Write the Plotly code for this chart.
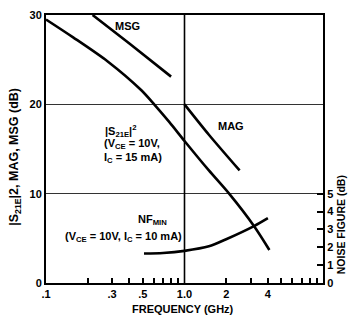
import plotly.graph_objects as go

# Data
msg_f = [0.217, 0.4, 0.8]
msg_db = [30.0, 26.8, 23.1]

mag_f = [1.0, 1.5, 2.5]
mag_db = [20.0, 16.6, 12.6]

s21_f = [0.1, 0.157, 0.279, 0.486, 0.604, 0.778, 1.0, 1.5, 2.1, 3.2, 4.1]
s21_db = [29.5, 27.5, 24.8, 21.6, 20.0, 18.0, 15.9, 12.6, 10.0, 6.3, 3.7]

nf_f = [0.51, 0.7, 1.0, 1.5, 2.0, 3.2, 4.0]
nf_db = [1.65, 1.68, 1.8, 2.05, 2.45, 3.2, 3.63]

x_tickvals = [0.1, 0.3, 0.5, 1.0, 2, 4]
x_ticktext = [".1", ".3", ".5", "1.0", "2", "4"]
x_minor = [0.2, 0.3, 0.4, 0.5, 0.6, 0.7, 0.8, 0.9, 2, 3, 4, 5, 6, 7, 8, 9]
y_tickvals = [0, 10, 20, 30]
nf_tickvals = [0, 1, 2, 3, 4, 5]

FONT = "Liberation Sans"
LW = 2.6

fig = go.Figure()
for f, v in [(msg_f, msg_db), (mag_f, mag_db), (s21_f, s21_db)]:
    fig.add_trace(go.Scatter(x=f, y=v, mode="lines", line=dict(color="black", width=LW, shape="spline", smoothing=0.8),
                             showlegend=False, hoverinfo="skip"))
fig.add_trace(go.Scatter(x=nf_f, y=nf_db, yaxis="y2", mode="lines",
                         line=dict(color="black", width=LW, shape="spline", smoothing=0.8),
                         showlegend=False, hoverinfo="skip"))

fig.update_layout(
    width=348, height=322,
    margin=dict(l=46, r=25, t=9, b=39),
    paper_bgcolor="white", plot_bgcolor="white",
    font=dict(family=FONT, size=11, color="black"),
    xaxis=dict(type="log", range=[-1, 1], tickvals=x_tickvals, ticktext=[f"<b>{t}</b>" for t in x_ticktext],
               ticks="", showgrid=False, zeroline=False,
               showline=True, linecolor="black", linewidth=2, mirror=True,
               minor=dict(tickvals=x_minor, ticks="inside", ticklen=5, tickcolor="black", tickwidth=1.5, showgrid=False),
               tickfont=dict(size=11, family=FONT)),
    yaxis=dict(range=[0, 30], tickvals=y_tickvals, ticktext=[f"<b>{v}</b>" for v in y_tickvals],
               ticks="", showgrid=True, gridcolor="#333", gridwidth=1.3, zeroline=False,
               showline=True, linecolor="black", linewidth=2, mirror=True,
               tickfont=dict(size=11, family=FONT)),
    yaxis2=dict(range=[0, 15], overlaying="y", side="right", tickvals=nf_tickvals,
                ticktext=[f"<b>{v}</b>" for v in nf_tickvals],
                ticks="inside", ticklen=6, tickwidth=1.5, tickcolor="black",
                showgrid=False, zeroline=False, showline=True, linecolor="black", linewidth=2,
                tickfont=dict(size=11, family=FONT)),
)

# vertical grid line at 1.0 GHz
fig.add_shape(type="line", xref="x", yref="paper", x0=1.0, x1=1.0, y0=0, y1=1,
              line=dict(color="black", width=1.6))

def ann(text, x, y, size=11, angle=0, xanchor="center"):
    fig.add_annotation(text=text, x=x, y=y, xref="paper", yref="paper", showarrow=False,
                       font=dict(family=FONT, size=size, color="black"), textangle=angle,
                       xanchor=xanchor, yanchor="middle")

W, H, L, T = 348, 322, 46, 9
PW, PH = W - 46 - 25, H - 9 - 39

def px(x):
    return (x - L) / PW

def py(y):
    return (T + PH - y) / PH

ann("<b>MSG</b>", px(127), py(20))
ann("<b>MAG</b>", px(231), py(122))
ann("<b>|S<sub>21E</sub>|<sup>2</sup></b>", px(103), py(128), xanchor="left")
ann("<b>(V<sub>CE</sub> = 10V,</b>", px(102), py(141), xanchor="left")
ann("<b>I<sub>C</sub> = 15 mA)</b>", px(102), py(155), xanchor="left")
ann("<b>NF<sub>MIN</sub></b>", px(152), py(219))
ann("<b>(V<sub>CE</sub> = 10V, I<sub>C</sub> = 10 mA)</b>", px(63), py(236), xanchor="left")
ann("<b>FREQUENCY (GHz)</b>", px(183), py(310))
ann("<b>|S<sub>21E</sub>|2, MAG, MSG (dB)</b>", px(15), py(154), size=12.5, angle=-90)
ann("<b>NOISE FIGURE (dB)</b>", px(341), py(224), size=10.5, angle=-90)

fig.write_html("out.html")
